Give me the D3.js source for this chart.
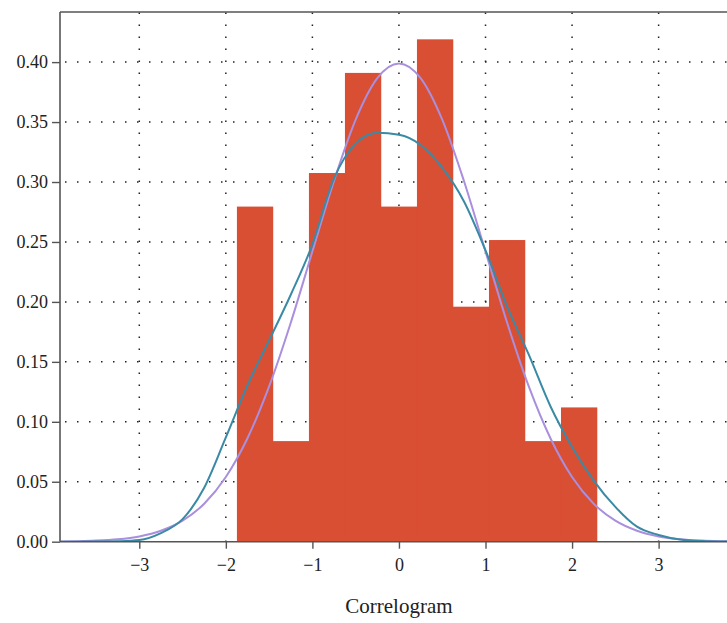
<!DOCTYPE html>
<html lang="en">
<head>
<meta charset="UTF-8">
<title>Correlogram</title>
<script src="https://d3js.org/d3.v7.min.js"></script>
<style>
  body { margin: 0; background: #fff; }
  text { font-family: "Liberation Serif", "DejaVu Serif", serif; fill: #222; }
</style>
</head>
<body>
<div id="chart"></div>
<script>
// histogram bins (edges) and densities
const binEdges = [-1.872, -1.456, -1.040, -0.624, -0.208, 0.208, 0.624, 1.040, 1.456, 1.872, 2.288];
const binDensity = [0.2795, 0.0839, 0.3075, 0.391, 0.2795, 0.419, 0.196, 0.2516, 0.0839, 0.112];

// curve sample positions
const curveX = [-4, -3.75, -3.5, -3.25, -3, -2.75, -2.5, -2.25, -2, -1.75, -1.5, -1.25, -1, -0.75, -0.5, -0.25,
  0, 0.25, 0.5, 0.75, 1, 1.25, 1.5, 1.75, 2, 2.25, 2.5, 2.75, 3, 3.25, 3.5, 3.75, 4];
// teal curve (fitted density)
const fitCurve = [0, 0, 0.0001, 0.0004, 0.0014, 0.0072, 0.0188, 0.045, 0.087, 0.1305, 0.168, 0.206, 0.248, 0.303, 0.332, 0.341,
  0.3395, 0.331, 0.312, 0.284, 0.243, 0.196, 0.156, 0.113, 0.079, 0.051, 0.029, 0.0125, 0.0056, 0.0018, 0.0005, 0.0001, 0];
// lavender curve (reference normal)
const normCurve = [0.0001, 0.0004, 0.0009, 0.002, 0.0044, 0.0091, 0.0175, 0.0317, 0.054, 0.0863, 0.1295, 0.1826, 0.242, 0.3011, 0.3521, 0.3867,
  0.3989, 0.3867, 0.3521, 0.3011, 0.242, 0.1826, 0.1295, 0.0863, 0.054, 0.0317, 0.0175, 0.0091, 0.0044, 0.002, 0.0009, 0.0004, 0.0001];

const xTicks = [-3, -2, -1, 0, 1, 2, 3];
const yTicks = [0, 0.05, 0.10, 0.15, 0.20, 0.25, 0.30, 0.35, 0.40];

const W = 727, H = 623;
const plot = {left: 60, top: 12, right: 727, bottom: 541.7};

const svg = d3.select("#chart").append("svg")
  .attr("width", W).attr("height", H);

const x = d3.scaleLinear().domain([-3.916, 3.79]).range([plot.left, plot.right]);
const y = d3.scaleLinear().domain([0, 0.4418]).range([plot.bottom, plot.top]);

svg.append("clipPath").attr("id", "clip")
  .append("rect").attr("x", plot.left).attr("y", plot.top)
  .attr("width", plot.right - plot.left).attr("height", plot.bottom - plot.top);

// dotted grid
const grid = svg.append("g").attr("stroke", "#222").attr("stroke-width", 1.5)
  .attr("stroke-dasharray", "1.5,10.5");
grid.selectAll("line.v").data(xTicks).enter().append("line")
  .attr("x1", d => x(d)).attr("x2", d => x(d))
  .attr("y1", plot.top + 0.5).attr("y2", plot.bottom);
grid.selectAll("line.h").data(yTicks.slice(1)).enter().append("line")
  .attr("y1", d => y(d)).attr("y2", d => y(d))
  .attr("x1", plot.left + 5).attr("x2", plot.right);

// bars
const bins = binDensity.map((d, i) => ({x0: binEdges[i], x1: binEdges[i + 1], v: d}));
svg.append("g").selectAll("rect").data(bins).enter().append("rect")
  .attr("x", d => x(d.x0))
  .attr("y", d => y(d.v))
  .attr("width", d => x(d.x1) - x(d.x0) + 0.3)
  .attr("height", d => y(0) - y(d.v))
  .attr("fill", "#d94f33");

// curves
const line = (vals) => d3.line()
  .x((d, i) => x(curveX[i]))
  .y(d => y(d))
  .curve(d3.curveMonotoneX)(vals);

const curves = svg.append("g").attr("clip-path", "url(#clip)").attr("fill", "none").attr("stroke-width", 2);
curves.append("path").attr("d", line(normCurve)).attr("stroke", "#a98fdd");
curves.append("path").attr("d", line(fitCurve)).attr("stroke", "#3a8aa6");

// axes
const xAxis = svg.append("g").attr("transform", `translate(0,${plot.bottom})`)
  .call(d3.axisBottom(x).tickValues(xTicks).tickSize(7).tickPadding(10).tickFormat(d3.format("d")));
const yAxis = svg.append("g").attr("transform", `translate(${plot.left},0)`)
  .call(d3.axisLeft(y).tickValues(yTicks).tickSize(8).tickPadding(4).tickFormat(d3.format(".2f")));

[xAxis, yAxis].forEach(g => {
  g.select(".domain").attr("stroke", "#555").attr("stroke-width", 1.6);
  g.selectAll(".tick line").attr("stroke", "#555").attr("stroke-width", 1.4);
  g.selectAll("text").attr("font-size", 18).attr("font-family", "Liberation Serif, serif").attr("fill", "#222");
});
xAxis.select(".domain").attr("d", `M${plot.left},0H${plot.right}`);
yAxis.select(".domain").attr("d", `M0,${plot.top}V${plot.bottom}`);

// top frame line
svg.append("line")
  .attr("x1", plot.left).attr("x2", plot.right).attr("y1", plot.top).attr("y2", plot.top)
  .attr("stroke", "#555").attr("stroke-width", 1.6);

svg.append("text")
  .attr("x", x(0)).attr("y", 613)
  .attr("text-anchor", "middle")
  .attr("font-size", 21)
  .text("Correlogram");
</script>
</body>
</html>
